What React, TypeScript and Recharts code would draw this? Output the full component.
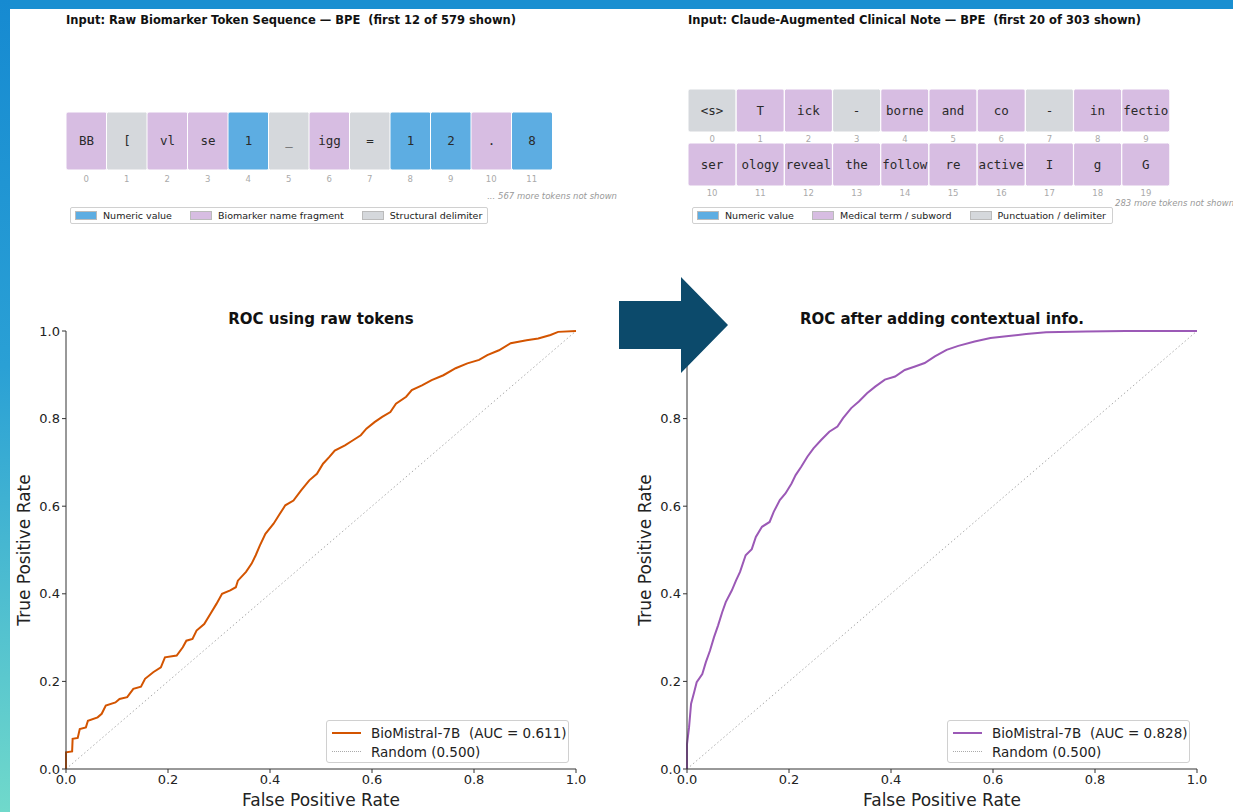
import React from 'react';
import { BarChart, Bar, Cell, LabelList, XAxis, YAxis, LineChart, Line } from 'recharts';

// token panels
const rawTokens = ['BB', '[', 'vl', 'se', '1', '_', 'igg', '=', '1', '2', '.', '8'];
const rawTypes = ['name', 'delim', 'name', 'name', 'num', 'delim', 'name', 'delim', 'num', 'num', 'name', 'num'];
const noteTokensTop = ['<s>', 'T', 'ick', '-', 'borne', 'and', 'co', '-', 'in', 'fectio'];
const noteTypesTop = ['delim', 'name', 'name', 'delim', 'name', 'name', 'name', 'delim', 'name', 'name'];
const noteTokensBottom = ['ser', 'ology', 'reveal', 'the', 'follow', 're', 'active', 'I', 'g', 'G'];
const noteTypesBottom = ['name', 'name', 'name', 'name', 'name', 'name', 'name', 'name', 'name', 'name'];

const rawLegend = ['Numeric value', 'Biomarker name fragment', 'Structural delimiter'];
const noteLegend = ['Numeric value', 'Medical term / subword', 'Punctuation / delimiter'];

// ROC curves, [fpr, tpr]
const rawRoc = [
  [0, 0], [0, 0.038], [0.012, 0.04], [0.013, 0.069], [0.023, 0.071], [0.027, 0.091], [0.039, 0.095],
  [0.043, 0.11], [0.062, 0.118], [0.07, 0.126], [0.078, 0.145], [0.097, 0.152], [0.105, 0.16],
  [0.12, 0.164], [0.132, 0.183], [0.147, 0.188], [0.155, 0.206], [0.171, 0.221], [0.186, 0.232],
  [0.194, 0.255], [0.217, 0.259], [0.229, 0.278], [0.236, 0.293], [0.248, 0.297], [0.256, 0.316],
  [0.271, 0.331], [0.283, 0.354], [0.295, 0.377], [0.306, 0.4], [0.322, 0.408], [0.333, 0.415],
  [0.337, 0.43], [0.353, 0.45], [0.364, 0.469], [0.372, 0.488], [0.38, 0.51], [0.391, 0.537],
  [0.407, 0.56], [0.419, 0.582], [0.43, 0.602], [0.446, 0.613], [0.461, 0.636], [0.477, 0.659],
  [0.492, 0.674], [0.504, 0.697], [0.516, 0.712], [0.527, 0.727], [0.547, 0.739], [0.562, 0.75],
  [0.578, 0.762], [0.589, 0.777], [0.605, 0.792], [0.62, 0.804], [0.636, 0.815], [0.647, 0.834],
  [0.667, 0.85], [0.678, 0.865], [0.698, 0.876], [0.717, 0.888], [0.74, 0.899], [0.764, 0.915],
  [0.787, 0.926], [0.81, 0.934], [0.826, 0.945], [0.849, 0.956], [0.872, 0.972], [0.903, 0.979],
  [0.926, 0.983], [0.95, 0.991], [0.965, 0.998], [1, 1],
];
const ctxRoc = [
  [0, 0], [0, 0.057], [0.004, 0.095], [0.008, 0.149], [0.014, 0.175], [0.019, 0.198], [0.03, 0.217],
  [0.037, 0.244], [0.045, 0.27], [0.053, 0.301], [0.061, 0.328], [0.069, 0.358], [0.076, 0.381],
  [0.088, 0.408], [0.096, 0.43], [0.104, 0.45], [0.115, 0.488], [0.127, 0.502], [0.135, 0.53],
  [0.147, 0.553], [0.162, 0.564], [0.17, 0.587], [0.182, 0.614], [0.193, 0.629], [0.205, 0.652],
  [0.213, 0.671], [0.224, 0.69], [0.236, 0.713], [0.248, 0.732], [0.263, 0.751], [0.279, 0.77],
  [0.295, 0.782], [0.306, 0.801], [0.322, 0.824], [0.337, 0.839], [0.353, 0.858], [0.369, 0.873],
  [0.388, 0.889], [0.408, 0.896], [0.427, 0.911], [0.447, 0.919], [0.466, 0.927], [0.486, 0.942],
  [0.509, 0.957], [0.532, 0.966], [0.564, 0.976], [0.595, 0.984], [0.626, 0.988], [0.665, 0.993],
  [0.704, 0.997], [0.782, 0.999], [0.86, 1], [1, 1],
];
const diagonal = [[0, 0], [1, 1]];
const axisTicks = [0, 0.2, 0.4, 0.6, 0.8, 1];

const tokenColors: Record<string, string> = { num: '#5dade2', name: '#d7bde2', delim: '#d5d8dc' };
const legendKeys = ['num', 'name', 'delim'];

const TokenRow = ({ tokens, types, start, width, barH, left, top, tickGap }: any) => {
  const data = tokens.map((t: string, i: number) => ({ idx: start + i, tok: t, v: 1, type: types[i] }));
  return (
    <div style={{ position: 'absolute', left, top }}>
      <BarChart width={width} height={barH + 22} data={data} margin={{ top: 0, right: 0, bottom: 0, left: 0 }} barCategoryGap={0}>
        <XAxis dataKey="idx" axisLine={false} tickLine={false} tickSize={tickGap} height={22} interval={0} tick={{ fontSize: 8.5, fill: '#aaa' }} />
        <YAxis hide domain={[0, 1]} />
        <Bar dataKey="v" isAnimationActive={false} radius={2} stroke="#fff" strokeWidth={1}>
          {data.map((d: any, i: number) => (
            <Cell key={i} fill={tokenColors[d.type]} />
          ))}
          <LabelList dataKey="tok" position="center" fill="#2a2a2a" fontSize={12.5} fontFamily="DejaVu Sans Mono" />
        </Bar>
      </BarChart>
    </div>
  );
};

const TokenLegend = ({ labels, left, width }: any) => (
  <div style={{
    position: 'absolute', left, top: 207, width, height: 17, boxSizing: 'border-box',
    border: '1px solid #d0d0d0', borderRadius: 2, background: 'rgba(255,255,255,0.9)',
    display: 'flex', alignItems: 'center', paddingLeft: 4, gap: 18, fontSize: 9.5, color: '#222',
  }}>
    {labels.map((l: string, i: number) => (
      <div key={l} style={{ display: 'flex', alignItems: 'center', gap: 6 }}>
        <span style={{ flex: '0 0 20px', height: 7, background: tokenColors[legendKeys[i]], border: '0.5px solid #bbb' }} />
        <span>{l}</span>
      </div>
    ))}
  </div>
);

const XLabel = ({ viewBox }: any) => (
  <text x={viewBox.x + viewBox.width / 2} y={viewBox.y + 31} textAnchor="middle" dominantBaseline="central" fontSize={17} fill="#222">
    False Positive Rate
  </text>
);

const YLabel = ({ viewBox }: any) => {
  const cx = viewBox.x + 24;
  const cy = viewBox.y + viewBox.height / 2;
  return (
    <text x={cx} y={cy} transform={`rotate(-90, ${cx}, ${cy})`} textAnchor="middle" dominantBaseline="central" fontSize={17} fill="#222">
      True Positive Rate
    </text>
  );
};

const RocChart = ({ left, points, color, title, auc }: any) => {
  const curve = points.map((p: number[]) => ({ fpr: p[0], tpr: p[1] }));
  const diag = diagonal.map((p) => ({ fpr: p[0], tpr: p[1] }));
  return (
    <div style={{ position: 'absolute', left, top: 300, width: 600, height: 512 }}>
      <LineChart width={600} height={512} margin={{ top: 31, right: 24, bottom: 0, left: 0 }}>
        <XAxis type="number" dataKey="fpr" domain={[0, 1]} ticks={axisTicks} tickFormatter={(v: number) => v.toFixed(1)}
          height={43} tickSize={4} stroke="#333" tick={{ fill: '#222', fontSize: 13 }} label={<XLabel />} />
        <YAxis type="number" domain={[0, 1]} ticks={axisTicks} tickFormatter={(v: number) => v.toFixed(1)}
          width={66} tickSize={4} stroke="#333" tick={{ fill: '#222', fontSize: 13 }} label={<YLabel />} />
        <Line data={diag} dataKey="tpr" stroke="#aaa" strokeWidth={1} strokeDasharray="1.5 2.5" dot={false} isAnimationActive={false} />
        <Line data={curve} dataKey="tpr" stroke={color} strokeWidth={2} dot={false} isAnimationActive={false} />
      </LineChart>
      <div style={{ position: 'absolute', left: 66, top: 10, width: 510, textAlign: 'center', fontWeight: 'bold', fontSize: 15, color: '#111' }}>
        {title}
      </div>
      <div style={{
        position: 'absolute', left: 326, top: 420, width: 243, height: 43, boxSizing: 'border-box',
        border: '1px solid #d0d0d0', borderRadius: 3, background: 'rgba(255,255,255,0.85)',
        fontSize: 13.5, color: '#222', padding: '2px 0 0 5px',
      }}>
        <div style={{ display: 'flex', alignItems: 'center', height: 19 }}>
          <span style={{ flex: '0 0 29px', height: 2, background: color, marginRight: 10 }} />
          <span style={{ whiteSpace: 'pre' }}>{`BioMistral-7B  (AUC = ${auc})`}</span>
        </div>
        <div style={{ display: 'flex', alignItems: 'center', height: 19 }}>
          <span style={{ flex: '0 0 29px', height: 0, borderTop: '1px dotted #aaa', marginRight: 10 }} />
          <span>Random (0.500)</span>
        </div>
      </div>
    </div>
  );
};

const App = () => (
  <div style={{ position: 'absolute', left: 0, top: 0, width: 1233, height: 812, overflow: 'hidden', background: '#fff', fontFamily: 'DejaVu Sans' }}>
    <div style={{ position: 'absolute', left: 0, top: 0, width: 1233, height: 9, background: '#1a8fd1' }} />
    <div style={{ position: 'absolute', left: 0, top: 0, width: 10, height: 812, background: 'linear-gradient(to bottom, #168ad1 0%, #2aa0d5 45%, #70d9cb 100%)' }} />

    {/* raw biomarker tokens */}
    <div style={{ position: 'absolute', left: 66, top: 13, fontSize: 11.5, fontWeight: 'bold', color: '#111', whiteSpace: 'pre' }}>
      Input: Raw Biomarker Token Sequence — BPE  (first 12 of 579 shown)
    </div>
    <TokenRow tokens={rawTokens} types={rawTypes} start={0} width={486} barH={58} left={66} top={112} tickGap={4} />
    <div style={{ position: 'absolute', right: 1233 - 617, top: 191, fontSize: 8.5, fontStyle: 'italic', color: '#999', whiteSpace: 'nowrap' }}>
      ... 567 more tokens not shown
    </div>
    <TokenLegend labels={rawLegend} left={70} width={418} />

    {/* clinical note tokens */}
    <div style={{ position: 'absolute', left: 688, top: 13, fontSize: 11.5, fontWeight: 'bold', color: '#111', whiteSpace: 'pre' }}>
      Input: Claude-Augmented Clinical Note — BPE  (first 20 of 303 shown)
    </div>
    <TokenRow tokens={noteTokensTop} types={noteTypesTop} start={0} width={482} barH={43} left={688} top={89} tickGap={2} />
    <TokenRow tokens={noteTokensBottom} types={noteTypesBottom} start={10} width={482} barH={43} left={688} top={143} tickGap={2} />
    <div style={{ position: 'absolute', left: 1115, top: 198, fontSize: 8.5, fontStyle: 'italic', color: '#999', whiteSpace: 'nowrap' }}>
      283 more tokens not shown
    </div>
    <TokenLegend labels={noteLegend} left={692} width={421} />

    <RocChart left={0} points={rawRoc} color="#d35400" title="ROC using raw tokens" auc="0.611" />
    <RocChart left={621} points={ctxRoc} color="#9b59b6" title="ROC after adding contextual info." auc="0.828" />

    <svg style={{ position: 'absolute', left: 619, top: 277 }} width={110} height={96}>
      <polygon points="0,24 62,24 62,0 109,48 62,96 62,72 0,72" fill="#0c4a6b" />
    </svg>
  </div>
);

export default App;
